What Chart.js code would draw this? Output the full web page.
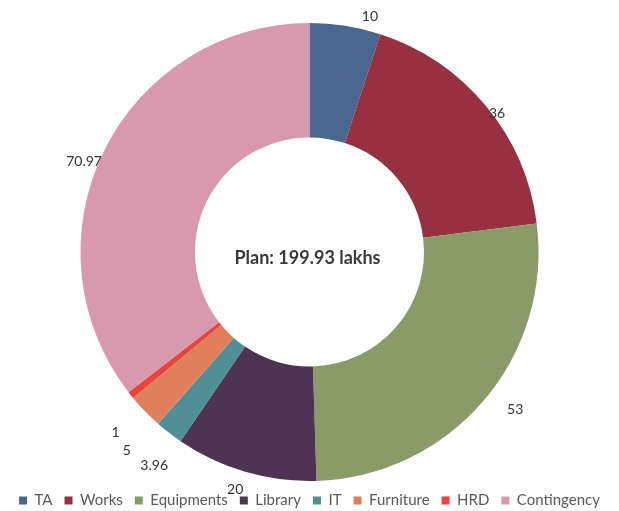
<!DOCTYPE html>
<html>
<head>
<meta charset="utf-8">
<script src="https://cdn.jsdelivr.net/npm/chart.js@4"></script>
<style>
  html, body { margin: 0; padding: 0; background: #fff; }
  #wrap { width: 619px; height: 511px; position: relative; }
</style>
</head>
<body>
<div id="wrap"><canvas id="planChart"></canvas></div>
<script>
// Plan budget split (lakhs)
var heads = ["TA", "Works", "Equipments", "Library", "IT", "Furniture", "HRD", "Contingency"];
var amounts = [10, 36, 53, 20, 3.96, 5, 1, 70.97];
var sliceColors = ["#49678f", "#973040", "#8a9a68", "#4c3452", "#4f8f95", "#e07f5e", "#e8433d", "#d898ad"];
var centerText = "Plan: 199.93 lakhs";

// label placement tweaks: angle shift (deg) and distance past the rim (px)
var labelTurn = [5.4, 3.2, -3.1, 1.1, -1.8, -3.3, -4.3, -4.2];
var labelGap = [14, 4, 30, 20, 35, 41, 36, 14];

var outsideLabels = {
  id: "outsideLabels",
  afterDatasetsDraw: function (chart) {
    var ctx = chart.ctx;
    var meta = chart.getDatasetMeta(0);
    ctx.save();
    ctx.font = "14px Lato";
    ctx.fillStyle = "#333";
    ctx.textAlign = "center";
    ctx.textBaseline = "middle";
    meta.data.forEach(function (arc, i) {
      var p = arc.getProps(["x", "y", "startAngle", "endAngle", "outerRadius"], true);
      var mid = (p.startAngle + p.endAngle) / 2 + labelTurn[i] * Math.PI / 180;
      var r = p.outerRadius + labelGap[i];
      ctx.fillText(String(amounts[i]), p.x + r * Math.cos(mid), p.y + r * Math.sin(mid));
    });
    // centre caption
    ctx.font = "bold 18px Lato";
    ctx.fillStyle = "#3a3a3a";
    var a = meta.data[0];
    ctx.fillText(centerText, a.x - 2, a.y + 6);
    ctx.restore();
  }
};

new Chart("planChart", {
  type: "doughnut",
  data: {
    labels: heads,
    datasets: [{
      data: amounts,
      backgroundColor: sliceColors,
      borderWidth: 0
    }]
  },
  options: {
    responsive: true,
    maintainAspectRatio: false,
    animation: false,
    cutout: "50%",
    layout: { padding: { top: 23, bottom: -7 } },
    plugins: {
      tooltip: { enabled: false },
      legend: {
        position: "bottom",
        labels: {
          font: { family: "Lato", size: 15 },
          color: "#595959",
          boxWidth: 8,
          boxHeight: 8,
          padding: 12
        }
      }
    }
  },
  plugins: [outsideLabels]
});
</script>
</body>
</html>
